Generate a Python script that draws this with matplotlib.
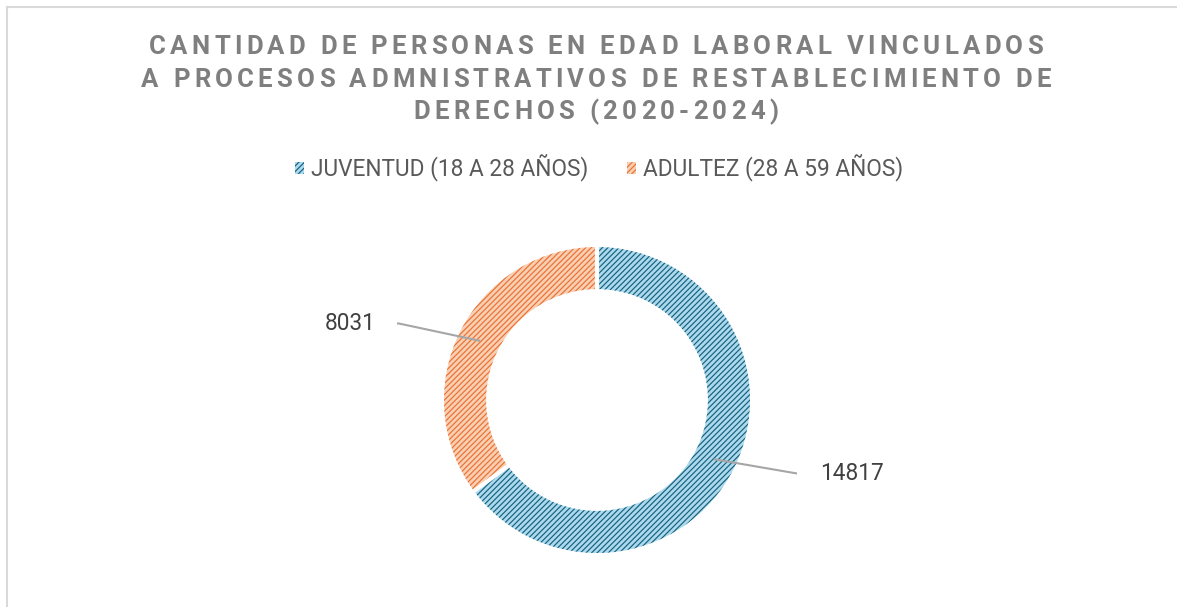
import numpy as np
import matplotlib
matplotlib.use('Agg')
import matplotlib.pyplot as plt
from matplotlib.patches import Patch

labels = ['JUVENTUD (18 A 28 AÑOS)', 'ADULTEZ (28 A 59 AÑOS)']
values = [14817, 8031]
title_lines = ['CANTIDAD DE PERSONAS EN EDAD LABORAL VINCULADOS',
               'A PROCESOS ADMNISTRATIVOS DE RESTABLECIMIENTO DE',
               'DERECHOS (2020-2024)']
face_colors = ['#acd9ec', '#f9cfb3']
hatch_colors = ['#15607f', '#e97132']
label_pos = [(1.39, -0.48), (-1.38, 0.50)]

W, H = 1177, 607
plt.rcParams['font.family'] = ['Roboto', 'DejaVu Sans']
plt.rcParams['hatch.linewidth'] = 0.85
fig = plt.figure(figsize=(W / 100, H / 100), dpi=100)
fig.patch.set_facecolor('white')
renderer = fig.canvas.get_renderer()

def fx(px):
    return px / W

def fy(py):
    return 1 - py / H

# chart area border (only left and top are inside the picture)
fig.add_artist(plt.Line2D([fx(7), fx(7)], [fy(7), 0], color='#d9d9d9', lw=1.5))
fig.add_artist(plt.Line2D([fx(7), 1], [fy(7), fy(7)], color='#d9d9d9', lw=1.5))

# letter-spaced title
def char_width(ch, **kw):
    if ch == ' ':
        return char_width('x x', **kw) - char_width('xx', **kw)
    t = fig.text(0, 0, ch, **kw)
    w = t.get_window_extent(renderer).width
    t.remove()
    return w

tkw = dict(fontsize=18.5, fontweight='bold', color='#7f7f7f')
w_first = [char_width(c, **tkw) for c in title_lines[0]]
track = (894 - sum(w_first)) / (len(title_lines[0]) - 1)
for line, base in zip(title_lines, [54, 87, 119]):
    ws = [char_width(c, **tkw) for c in line]
    total = sum(ws) + track * (len(line) - 1)
    x = 596 - total / 2
    for c, w in zip(line, ws):
        if c != ' ':
            fig.text(fx(x), fy(base), c, ha='left', va='baseline', **tkw)
        x += w + track

# donut
ax = fig.add_axes([fx(597 - 200), fy(400 + 200), 400 / W, 400 / H])
ring = 0.275
wedges, _ = ax.pie(values, startangle=90, counterclock=False, radius=1,
                   colors=face_colors, wedgeprops=dict(width=ring, linewidth=0))
for w, hc in zip(wedges, hatch_colors):
    w.set_hatch('//////')
    w.set_edgecolor(hc)
    w.set_linewidth(0)
ax.set_xlim(-200 / 153, 200 / 153)
ax.set_ylim(-200 / 153, 200 / 153)
ax.axis('off')

total = sum(values)
bounds = 90 - np.concatenate([[0], np.cumsum(values)]) / total * 360
for a in bounds[:-1]:
    r = np.radians(a)
    ax.plot([(1 - ring - 0.02) * np.cos(r), 1.02 * np.cos(r)],
            [(1 - ring - 0.02) * np.sin(r), 1.02 * np.sin(r)], color='white', lw=3)

mids = (bounds[:-1] + bounds[1:]) / 2
for v, m, (lx, ly) in zip(values, mids, label_pos):
    r = np.radians(m)
    ax_, ay_ = (1 - ring / 2) * np.cos(r), (1 - ring / 2) * np.sin(r)
    side = np.sign(lx)
    ax.plot([ax_, lx - side * 0.085, lx], [ay_, ly, ly], color='#a6a6a6', lw=1.5)
    ax.text(lx + side * 0.07, ly, str(v), ha='left' if side > 0 else 'right', va='center',
            fontsize=16.3, color='#404040')

handles = [Patch(facecolor=fc, edgecolor=hc, hatch='//////', linewidth=0)
           for fc, hc in zip(face_colors, hatch_colors)]
fig.legend(handles, labels, loc='center', bbox_to_anchor=(fx(599), fy(168)), ncol=2,
           frameon=False, fontsize=16.3, labelcolor='#595959', handlelength=0.4,
           handleheight=0.4, handletextpad=0.3, columnspacing=1.75)

fig.savefig('out.png', dpi=100, facecolor='white')
